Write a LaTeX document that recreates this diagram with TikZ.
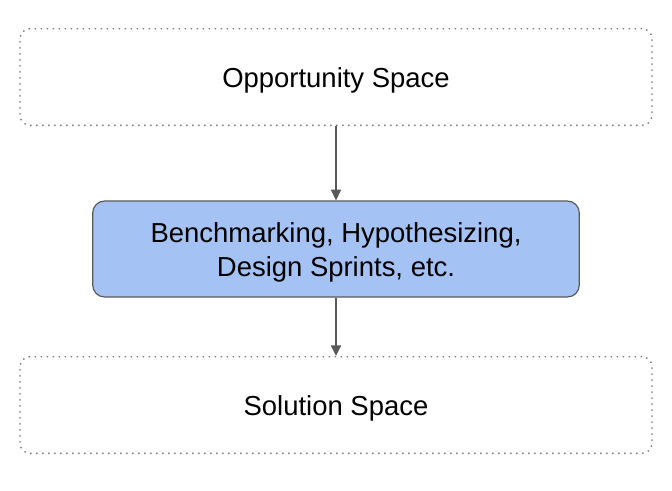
\documentclass[tikz,border=0pt]{standalone}
\usepackage{fontspec}
\setmainfont{Liberation Sans}
\usepackage{tikz}
\usetikzlibrary{arrows.meta}

\definecolor{stepblue}{HTML}{A4C2F4}
\definecolor{edgegray}{HTML}{595959}
\definecolor{dotgray}{HTML}{7A7A7A}

\begin{document}
\begin{tikzpicture}[
    x=0.75pt, y=-0.75pt,
    space/.style={rectangle, rounded corners=7.5pt, draw=dotgray, line width=1pt,
        dash pattern=on 1.1pt off 3.4pt, minimum width=474pt, minimum height=72.5pt,
        text height=19.5pt, font=\fontsize{20.6}{25.5}\selectfont},
    method/.style={rectangle, rounded corners=9pt, draw=edgegray, line width=0.9pt,
        fill=stepblue, minimum width=365pt, minimum height=72pt, align=center,
        text height=45pt, font=\fontsize{20.6}{25.5}\selectfont},
    arrow/.style={-{Triangle[length=8pt,width=7.5pt]}, draw=edgegray, fill=edgegray, line width=1.1pt}
]
\useasboundingbox (0,0) rectangle (672,490);

% Boxes
\node[space] (opp) at (336, 77) {Opportunity Space};
\node[method] (bench) at (336, 249) {Benchmarking, Hypothesizing,\\Design Sprints, etc.};
\node[space] (sol) at (336, 405) {Solution Space};

% Arrows
\draw[arrow] (opp) -- (bench);
\draw[arrow] (bench) -- (sol);

\end{tikzpicture}
\end{document}
